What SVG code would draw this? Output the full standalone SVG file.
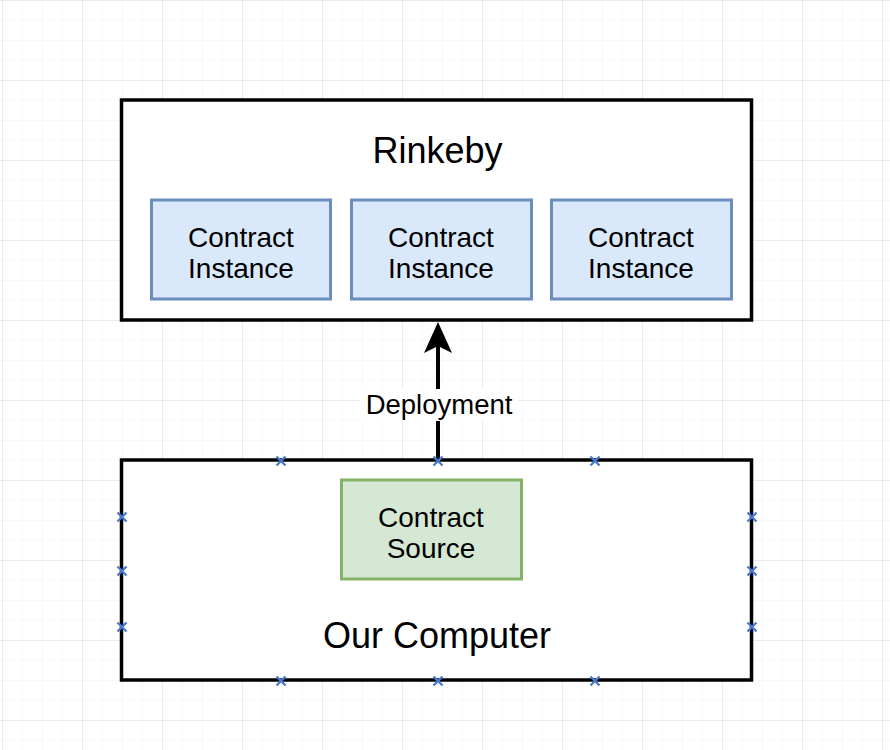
<svg xmlns="http://www.w3.org/2000/svg" width="890" height="750" viewBox="0 0 890 750">
<defs>
<pattern id="minor" x="2" y="0" width="20" height="20" patternUnits="userSpaceOnUse">
<path d="M0 0H20M0 0V20" fill="none" stroke="#f1f1f1" stroke-width="1.2"/>
</pattern>
<pattern id="major" x="2" y="0" width="80" height="80" patternUnits="userSpaceOnUse">
<path d="M0 0H80M0 0V80" fill="none" stroke="#e6e6e6" stroke-width="1.5"/>
</pattern>
<g id="xm"><path d="M-4.5 -4.5L4.5 4.5M-4.5 4.5L4.5 -4.5" stroke="#4a7bd0" stroke-width="2.4"/></g>
</defs>
<style>
text{font-family:"Liberation Sans",Arial,sans-serif;fill:#000;text-anchor:middle}
.big{font-size:36px}
.mid{font-size:28px}
.lbl{font-size:27.5px}
.frame{fill:#fff;stroke:#000;stroke-width:3.5}
.inst{fill:#dae8fc;stroke:#6c8ebf;stroke-width:3}
.src{fill:#d5e8d4;stroke:#82b366;stroke-width:3}
</style>
<rect width="890" height="750" fill="#fff"/>
<rect width="890" height="750" fill="url(#minor)"/>
<rect width="890" height="750" fill="url(#major)"/>

<g id="rinkeby">
<rect class="frame" x="121.5" y="100" width="630" height="220"/>
<text class="big" x="437.5" y="163">Rinkeby</text>
</g>
<g id="instance1">
<rect class="inst" x="151.5" y="200" width="179" height="99"/>
<text class="mid" x="241" y="247">Contract</text>
<text class="mid" x="241" y="278">Instance</text>
</g>
<g id="instance2">
<rect class="inst" x="351.5" y="200" width="180" height="99"/>
<text class="mid" x="441" y="247">Contract</text>
<text class="mid" x="441" y="278">Instance</text>
</g>
<g id="instance3">
<rect class="inst" x="551.5" y="200" width="180" height="99"/>
<text class="mid" x="641" y="247">Contract</text>
<text class="mid" x="641" y="278">Instance</text>
</g>

<g id="computer">
<rect class="frame" x="121.5" y="460" width="630" height="220"/>
<text class="big" x="437" y="648">Our Computer</text>
</g>
<g id="source">
<rect class="src" x="341.5" y="480" width="180" height="99"/>
<text class="mid" x="431" y="527">Contract</text>
<text class="mid" x="431" y="558">Source</text>
</g>

<g id="connectors">
<path d="M438 460V345" stroke="#000" stroke-width="4" fill="none"/>
<path d="M438 322L452 353L438 346L424 353Z" fill="#000"/>
<rect x="360" y="389" width="158" height="32" fill="#fff"/>
<text class="lbl" x="439" y="414">Deployment</text>
</g>

<g id="markers">
<use href="#xm" x="281" y="461"/>
<use href="#xm" x="438" y="461"/>
<use href="#xm" x="595" y="461"/>
<use href="#xm" x="281" y="681"/>
<use href="#xm" x="438" y="681"/>
<use href="#xm" x="595" y="681"/>
<use href="#xm" x="122" y="517"/>
<use href="#xm" x="122" y="571"/>
<use href="#xm" x="122" y="627"/>
<use href="#xm" x="752" y="517"/>
<use href="#xm" x="752" y="571"/>
<use href="#xm" x="752" y="627"/>
</g>
</svg>
